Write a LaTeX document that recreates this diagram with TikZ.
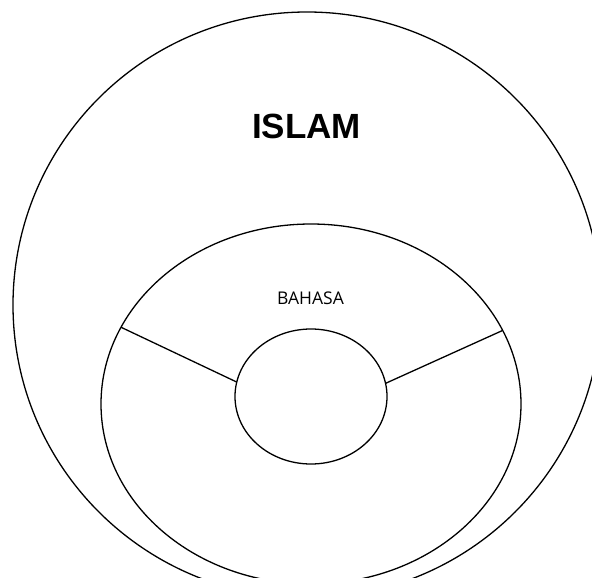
\documentclass[tikz,border=0pt]{standalone}
\usepackage{fontspec}
\setmainfont{Liberation Sans}
\newfontfamily\bahasafont{Open Sans}
\usetikzlibrary{shapes.geometric}
\begin{document}
\begin{tikzpicture}[x=1pt,y=-1pt,
  ring/.style={draw=black,line width=1.3pt,ellipse,inner sep=0pt,outer sep=0pt},
  spoke/.style={draw=black,line width=1.3pt},
  title/.style={font=\fontsize{35}{40}\selectfont\bfseries,inner sep=0pt},
  label/.style={font=\bahasafont\fontsize{17.5}{20}\selectfont,inner sep=0pt}]
\useasboundingbox (0,0) rectangle (592,578);
\clip (0,0) rectangle (592,578);
\node[ring,minimum width=588pt,minimum height=586pt] (outer) at (307,305) {};
\node[ring,minimum width=420pt,minimum height=360pt] (middle) at (311,404) {};
\node[ring,minimum width=152pt,minimum height=135pt] (inner) at (311,396.5) {};
\node[title] (islam) at (306.5,126) {ISLAM};
\node[label] (bahasa) at (310.5,298) {BAHASA};
\draw[spoke] (middle.158.7) -- (inner.169.7);
\draw[spoke] (middle.21.1) -- (inner.10.1);
\end{tikzpicture}
\end{document}
